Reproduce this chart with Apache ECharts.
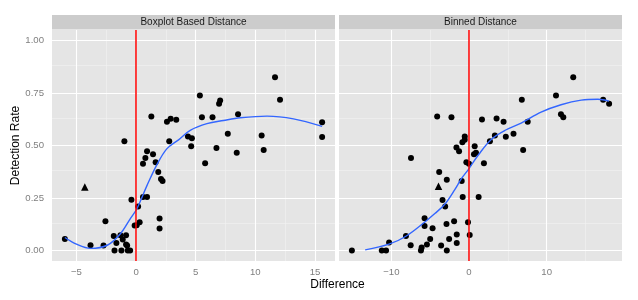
<!DOCTYPE html>
<html>
<head>
<meta charset="utf-8">
<script src="https://cdn.jsdelivr.net/npm/echarts@6/dist/echarts.min.js"></script>
<style>html,body{margin:0;padding:0;background:#fff}#c{width:638px;height:300px}</style>
</head>
<body>
<div id="c"></div>
<script>
// ---- data ----
const panelTitles = ['Boxplot Based Distance', 'Binned Distance'];
const xTitle = 'Difference';
const yTitle = 'Detection Rate';

const leftX = [11.65,12.07,5.35,7.05,6.96,1.28,2.59,2.9,3.37,5.52,6.41,8.55,7.69,10.53,15.6,15.6,2.78,4.35,4.68,-0.98,
  -5.97,-3.82,-2.73,-2.57,-1.87,-1.81,-1.65,-1.31,-1.23,-1.12,-0.84,-0.84,-0.7,-0.5,-0.75,-0.39,-0.12,0.05,0.17,0.3,
  0.58,0.92,0.58,0.78,0.92,1.42,1.64,1.86,2.09,2.22,1.97,1.97,5.79,4.62,6.74,8.44,10.7];
const leftY = [0.825,0.718,0.738,0.714,0.699,0.638,0.613,0.627,0.623,0.635,0.635,0.649,0.556,0.548,0.611,0.54,0.52,0.543,0.535,0.52,
  0.055,0.025,0.024,0.139,0.069,0,0.036,0.073,0,0.052,0.073,0.028,0,0,0.024,0.242,0.119,0.12,0.21,0.135,
  0.255,0.255,0.413,0.44,0.473,0.458,0.42,0.374,0.34,0.331,0.152,0.105,0.416,0.497,0.488,0.466,0.478];
const leftTriX = [-4.3];
const leftTriY = [0.302];
const leftFitX = [-5.97,-5,-3.82,-2.42,-1.31,-0.48,0.08,0.92,1.76,2.59,3.56,4.54,5.94,7.33,8.75,10.98,13.2,15.6];
const leftFitY = [0.062,0.03,0.01,0.025,0.08,0.152,0.2,0.31,0.41,0.485,0.527,0.572,0.604,0.619,0.632,0.64,0.627,0.591];

const rightX = [13.42,11.2,17.27,18.04,6.8,-4.1,-2.26,1.67,3.55,4.45,7.56,11.84,12.14,5.73,4.74,3.33,2.69,-0.55,
  -15.08,-11.23,-10.68,-10.29,-8.12,-7.51,-7.47,-6.19,-6.1,-5.72,-5.72,-5.42,-5.0,-4.69,-3.84,-2.86,-3.41,-3.07,-2.9,-3.59,
  -2.86,-2.56,-1.92,-1.58,-1.58,-1.62,-1.28,-0.94,-0.81,-0.85,-0.55,-0.34,0.0,-0.13,0.09,0.73,0.64,0.9,1.24,1.92,6.97];
const rightY = [0.825,0.738,0.718,0.699,0.718,0.638,0.635,0.624,0.629,0.613,0.613,0.649,0.635,0.556,0.542,0.548,0.52,0.543,
  0,0,0,0.038,0.069,0.025,0.44,0,0.014,0.154,0.117,0.028,0.055,0.106,0.374,0.337,0.241,0.21,0.126,0.024,
  0,0.055,0.139,0.076,0.036,0.49,0.473,0.331,0.255,0.516,0.527,0.42,0.413,0.135,0.074,0.497,0.458,0.466,0.255,0.416,0.478];
const rightTriX = [-3.93];
const rightTriY = [0.306];
const rightFitX = [-13.37,-10.3,-8.12,-5.68,-4.4,-3.12,-1.83,-0.98,0,1.2,2.9,4.8,6.72,9.28,11.85,14.45,16.6,18.04];
const rightFitY = [0.003,0.03,0.068,0.136,0.176,0.22,0.29,0.342,0.39,0.455,0.53,0.575,0.607,0.659,0.694,0.716,0.72,0.711];

const leftXTicks = [-5,0,5,10,15];
const leftXMinor = [-2.5,2.5,7.5,12.5];
const rightXTicks = [-10,0,10];
const rightXMinor = [-5,5,15];
const yTicks = [0,0.25,0.5,0.75,1];
const yMinor = [0.125,0.375,0.625,0.875];
const vLineX = 0;

// ---- helpers ----
const zip = (a, b) => a.map((v, i) => [v, b[i]]);
const fmtX = v => (v < 0 ? '\u2212' + (-v) : String(v));
const GREY = '#7F7F7F';
const FONT = '"Liberation Sans", Arial, sans-serif';

function gridLines(xMinor, xMajor) {
  const d = [];
  yMinor.forEach(v => d.push({yAxis: v, lineStyle: {color: '#F2F2F2', width: 0.6, type: 'solid'}}));
  xMinor.forEach(v => d.push({xAxis: v, lineStyle: {color: '#F2F2F2', width: 0.6, type: 'solid'}}));
  yTicks.forEach(v => d.push({yAxis: v, lineStyle: {color: '#FFFFFF', width: 1.1, type: 'solid'}}));
  xMajor.forEach(v => d.push({xAxis: v, lineStyle: {color: '#FFFFFF', width: 1.1, type: 'solid'}}));
  return {silent: true, symbol: 'none', z: 1, label: {show: false}, animation: false, data: d};
}

function xAxisDef(idx, min, max, ticks) {
  return {
    type: 'value', gridIndex: idx, min: min, max: max,
    splitLine: {show: false}, axisLine: {show: false},
    axisTick: {show: true, length: 4, lineStyle: {color: GREY, width: 1}, customValues: ticks},
    axisLabel: {color: GREY, fontSize: 9.6, fontFamily: FONT, margin: 6, formatter: fmtX, customValues: ticks}
  };
}
function yAxisDef(idx, showLabels) {
  return {
    type: 'value', gridIndex: idx, min: -0.05, max: 1.05,
    splitLine: {show: false}, axisLine: {show: false},
    axisTick: {show: showLabels, length: 4, lineStyle: {color: GREY, width: 1}, customValues: yTicks},
    axisLabel: {show: showLabels, color: GREY, fontSize: 9.6, fontFamily: FONT, margin: 8,
      formatter: v => v.toFixed(2), customValues: yTicks}
  };
}

function panelSeries(idx, px, py, tx, ty, fx, fy, xMinor, xMajor) {
  return [
    {type: 'scatter', xAxisIndex: idx, yAxisIndex: idx, data: zip(px, py), symbol: 'circle', symbolSize: 6,
      itemStyle: {color: '#000', opacity: 1}, z: 2, silent: true, markLine: gridLines(xMinor, xMajor)},
    {type: 'scatter', xAxisIndex: idx, yAxisIndex: idx, data: zip(tx, ty), symbol: 'triangle', symbolSize: 7.5,
      itemStyle: {color: '#000', opacity: 1}, z: 2, silent: true},
    {type: 'line', xAxisIndex: idx, yAxisIndex: idx, data: zip(fx, fy), smooth: 0.35, showSymbol: false,
      lineStyle: {color: '#3366FF', width: 1.4}, z: 3, silent: true,
      markLine: {silent: true, symbol: 'none', z: 6, label: {show: false},
        data: [{xAxis: vLineX}], lineStyle: {color: '#FF0000', width: 1.5, type: 'solid'}}}
  ];
}

const chart = echarts.init(document.getElementById('c'), null, {renderer: 'canvas'});
const gridBase = {top: 30, height: 231, width: 283, show: true, backgroundColor: '#E5E5E5', borderWidth: 0};
chart.setOption({
  animation: false,
  grid: [Object.assign({left: 52}, gridBase), Object.assign({left: 339}, gridBase)],
  xAxis: [xAxisDef(0, -7.05, 16.68, leftXTicks), xAxisDef(1, -16.74, 19.7, rightXTicks)],
  yAxis: [yAxisDef(0, true), yAxisDef(1, false)],
  series: [].concat(
    panelSeries(0, leftX, leftY, leftTriX, leftTriY, leftFitX, leftFitY, leftXMinor, leftXTicks),
    panelSeries(1, rightX, rightY, rightTriX, rightTriY, rightFitX, rightFitY, rightXMinor, rightXTicks)
  ),
  graphic: [
    {type: 'rect', left: 52, top: 15, shape: {width: 283, height: 14.5}, style: {fill: '#CCCCCC'}, silent: true},
    {type: 'rect', left: 339, top: 15, shape: {width: 283, height: 14.5}, style: {fill: '#CCCCCC'}, silent: true},
    {type: 'text', x: 193.5, y: 22.5, style: {text: panelTitles[0], fill: '#1A1A1A', font: '10px ' + FONT, align: 'center', verticalAlign: 'middle'}, silent: true},
    {type: 'text', x: 480.5, y: 22.5, style: {text: panelTitles[1], fill: '#1A1A1A', font: '10px ' + FONT, align: 'center', verticalAlign: 'middle'}, silent: true},
    {type: 'text', x: 337.5, y: 285, style: {text: xTitle, fill: '#000', font: '12px ' + FONT, align: 'center', verticalAlign: 'middle'}, silent: true},
    {type: 'text', x: 15.5, y: 145.5, rotation: Math.PI / 2, style: {text: yTitle, fill: '#000', font: '12px ' + FONT, align: 'center', verticalAlign: 'middle'}, silent: true}
  ]
});
</script>
</body>
</html>
